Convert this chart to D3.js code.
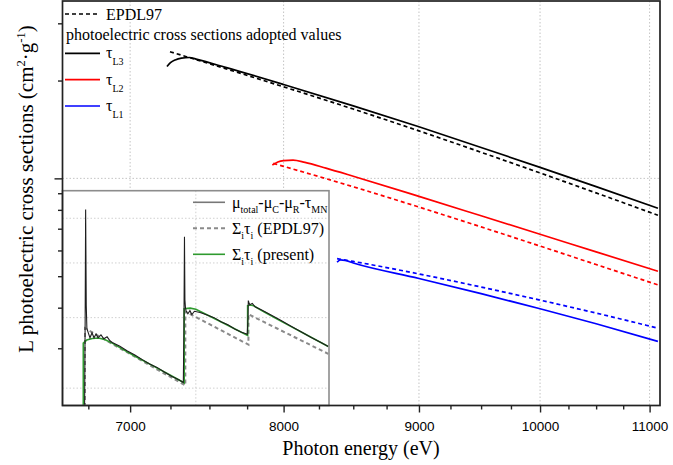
<!DOCTYPE html>
<html>
<head>
<meta charset="utf-8">
<script src="https://cdn.jsdelivr.net/npm/d3@7"></script>
<style>
  html, body { margin: 0; padding: 0; background: #fff; }
  svg { display: block; }
  text { white-space: pre; }
</style>
</head>
<body>
<svg id="chart" width="673" height="465"></svg>
<script>
// ---------------- data (energies in eV, cross sections in cm²/g) ----------------
const xMajorTicks = [7000, 8000, 9000, 10000, 11000];
const xMinorTicks = [6750, 7250, 7500, 7750, 8250, 8500, 8750, 9250, 9500, 9750, 10250, 10500, 10750];
const yMajorTicks = [100];
const yMinorTicks = [30, 40, 50, 60, 70, 80, 90, 200, 300];

// L3 subshell
const l3Energy  = [7228, 7250, 7280, 7320, 7370, 7420, 7600, 8000, 8500, 9000, 9500, 10000, 10500, 11080];
const l3Adopted = [221.0, 227.0, 231.5, 234.5, 235.5, 232.3, 220.0, 194.5, 167.2, 144.1, 124.5, 108.1, 94.3, 80.9];
const l3EpdlEnergy = [7247, 7400, 7600, 8000, 8500, 9000, 9500, 10000, 10500, 11080];
const l3Epdl       = [245.2, 233.0, 218.0, 191.3, 163.4, 140.0, 120.3, 103.9, 90.2, 77.0];

// L2 subshell
const l2Energy  = [7922, 7960, 8000, 8066, 8150, 8300, 8500, 9000, 9500, 10000, 10500, 11080];
const l2Adopted = [109.9, 112.3, 113.4, 113.8, 112.0, 107.5, 101.5, 88.0, 76.7, 67.3, 59.4, 51.8];
const l2EpdlEnergy = [7929, 8000, 8500, 9000, 9500, 10000, 10500, 11080];
const l2Epdl       = [111.2, 108.9, 94.2, 81.6, 70.9, 61.9, 54.3, 47.0];

// L1 subshell
const l1Energy  = [8381, 8405, 8440, 8500, 9000, 9500, 10000, 10500, 11080];
const l1Adopted = [55.2, 56.1, 55.9, 54.9, 49.2, 44.2, 39.7, 35.7, 31.5];
const l1EpdlEnergy = [8381, 8500, 9000, 9500, 10000, 10500, 11080];
const l1Epdl       = [56.6, 55.5, 50.8, 46.3, 42.2, 38.5, 34.6];

// inset: total L-shell photoelectric attenuation near the edges
const insetGridY = [300, 400, 500, 600];
const insetGridX = [8000];

const measEnergy = [7250, 7254, 7257, 7261, 7265, 7272, 7285, 7298, 7311, 7324, 7337, 7356, 7375, 7396, 7415,
  7430, 7480, 7530, 7580, 7630, 7680, 7730, 7780, 7830, 7880, 7912, 7916, 7920, 7923, 7927, 7932, 7944, 7958,
  7972, 7990, 8030, 8080, 8130, 8180, 8230, 8280, 8330, 8363, 8372, 8378, 8380, 8385, 8391, 8410, 8430, 8480,
  8550, 8620, 8700, 8780, 8860, 8940, 8994];
const measValue = [270, 400, 622, 420, 383, 377.5, 368.4, 376.0, 368.4, 374.4, 368.4, 372.9, 367.0, 369.9, 364.0,
  361.5, 356.0, 349.0, 343.5, 337.0, 331.0, 326.5, 320.5, 315.0, 310.5, 307.0, 380, 556.6, 430, 416, 411, 406.5, 411.5,
  405, 410.5, 408.5, 404.5, 400.0, 393.5, 388.5, 382.0, 377.0, 374.4, 373.5, 400, 428.9, 425, 421.5, 424, 418, 412.5,
  404.5, 396.0, 386.5, 377.5, 369.0, 361.0, 355.5];

const epdlSumEnergy = [7253, 7253, 7400, 7600, 7800, 7926, 7926, 8000, 8100, 8200, 8300, 8361, 8381, 8381,
  8500, 8600, 8700, 8800, 8994];
const epdlSumValue  = [270, 383.0, 363.3, 338.6, 316.3, 303.5, 410.1, 401.0, 389.1, 377.7, 366.8, 360.4, 358.3, 405.5,
  392.6, 382.3, 372.3, 362.7, 345.1];

const presentSumEnergy = [7242, 7242, 7264, 7300, 7340, 7380, 7430, 7500, 7600, 7700, 7800, 7918, 7918, 7960, 8000,
  8100, 8200, 8300, 8375, 8375, 8395, 8420, 8500, 8600, 8700, 8800, 8994];
const presentSumValue  = [270, 360.5, 365.0, 367.3, 368.0, 366.0, 360.5, 351.5, 339.7, 328.9, 318.4, 306.6, 415.0, 415.8, 414.0,
  402.2, 390.9, 380.0, 372.0, 420.0, 421.2, 419.8, 409.2, 397.2, 386.0, 375.2, 355.5];

// ---------------- layout ----------------
const SERIF = "'Liberation Serif', 'Times New Roman', Times, serif";
const SANS = "'Liberation Sans', Arial, Helvetica, sans-serif";
const plot = { left: 62.5, right: 660, top: 1, bottom: 405.5 };
const inset = { left: 62.5, right: 329, top: 190.7, bottom: 405.5 };

const svg = d3.select('#chart');

const x = d3.scaleLog().domain([6600, 11100]).range([plot.left, plot.right]);
const y = d3.scaleLog().domain([20, 351.4]).range([plot.bottom, plot.top]);
const xi = d3.scaleLog().domain([7110, 9000]).range([inset.left, inset.right]);
const yi = d3.scaleLog().domain([279.5, 671.4]).range([inset.bottom, inset.top]);

const zip = (a, b) => a.map((v, i) => [v, b[i]]);

const defs = svg.append('defs');
defs.append('clipPath').attr('id', 'clipMain').append('rect')
  .attr('x', plot.left).attr('y', plot.top)
  .attr('width', plot.right - plot.left).attr('height', plot.bottom - plot.top);
defs.append('clipPath').attr('id', 'clipInset').append('rect')
  .attr('x', inset.left).attr('y', inset.top)
  .attr('width', inset.right - inset.left).attr('height', inset.bottom - inset.top);

// ---------------- main grid ----------------
const grid = svg.append('g').attr('stroke', '#c4c4c4').attr('stroke-width', 1).attr('stroke-dasharray', '1.5,2');
grid.selectAll('line.gx').data(xMajorTicks).join('line')
  .attr('x1', d => x(d)).attr('x2', d => x(d)).attr('y1', plot.top).attr('y2', plot.bottom);
grid.selectAll('line.gy').data(yMajorTicks).join('line')
  .attr('x1', plot.left).attr('x2', plot.right).attr('y1', d => y(d)).attr('y2', d => y(d));

// ---------------- main curves ----------------
const lineMain = d3.line().x(d => x(d[0])).y(d => y(d[1])).curve(d3.curveMonotoneX);
const mainSeries = [
  { data: zip(l3EpdlEnergy, l3Epdl), color: '#000', dash: '4,3' },
  { data: zip(l3Energy, l3Adopted), color: '#000', dash: null },
  { data: zip(l2EpdlEnergy, l2Epdl), color: '#ff0000', dash: '4,3' },
  { data: zip(l2Energy, l2Adopted), color: '#ff0000', dash: null },
  { data: zip(l1EpdlEnergy, l1Epdl), color: '#0000ff', dash: '4,3' },
  { data: zip(l1Energy, l1Adopted), color: '#0000ff', dash: null },
];
const curves = svg.append('g').attr('clip-path', 'url(#clipMain)');
mainSeries.forEach(s => {
  curves.append('path').datum(s.data)
    .attr('d', lineMain).attr('fill', 'none')
    .attr('stroke', s.color).attr('stroke-width', 1.7)
    .attr('stroke-dasharray', s.dash);
});

// ---------------- inset ----------------
const gi = svg.append('g');
gi.append('rect').attr('x', inset.left).attr('y', inset.top)
  .attr('width', inset.right - inset.left).attr('height', inset.bottom - inset.top)
  .attr('fill', '#fff');
const igrid = gi.append('g').attr('stroke', '#d0d0d0').attr('stroke-width', 1).attr('stroke-dasharray', '1.5,2');
igrid.selectAll('line.h').data(insetGridY).join('line')
  .attr('x1', inset.left).attr('x2', inset.right).attr('y1', d => yi(d)).attr('y2', d => yi(d));
igrid.selectAll('line.v').data(insetGridX).join('line')
  .attr('x1', d => xi(d)).attr('x2', d => xi(d)).attr('y1', inset.top).attr('y2', inset.bottom);

const lineInset = d3.line().x(d => xi(d[0])).y(d => yi(d[1]));
const icurves = gi.append('g').attr('clip-path', 'url(#clipInset)');
icurves.append('path').datum(zip(epdlSumEnergy, epdlSumValue))
  .attr('d', lineInset).attr('fill', 'none').attr('stroke', '#8a8a8a')
  .attr('stroke-width', 2).attr('stroke-dasharray', '4,3');
icurves.append('path').datum(zip(presentSumEnergy, presentSumValue))
  .attr('d', lineInset).attr('fill', 'none').attr('stroke', '#2f9a2f').attr('stroke-width', 1.6);
icurves.append('path').datum(zip(measEnergy, measValue))
  .attr('d', lineInset).attr('fill', 'none').attr('stroke', '#1e1e1e').attr('stroke-width', 1.1);

gi.append('rect').attr('x', inset.left).attr('y', inset.top)
  .attr('width', inset.right - inset.left).attr('height', inset.bottom - inset.top)
  .attr('fill', 'none').attr('stroke', '#8c8c8c').attr('stroke-width', 1.6);

// rich text helper: parts with optional sub/superscripts
function richText(parent, px, py, parts, size, subSize, shift) {
  const t = parent.append('text').attr('x', px).attr('y', py)
    .style('font-family', SERIF).style('font-size', size + 'px').attr('fill', '#000');
  let offset = 0;
  parts.forEach(p => {
    const target = p.sub ? shift : (p.sup ? -shift : 0);
    const ts = t.append('tspan').text(p.t).attr('dy', target - offset);
    if (p.sub || p.sup) ts.style('font-size', subSize + 'px');
    offset = target;
  });
  return t;
}

// inset legend
const insetLegend = [
  { color: '#777', dash: null, width: 1.6,
    parts: [{ t: 'μ' }, { t: 'total', sub: 1 }, { t: '-μ' }, { t: 'C', sub: 1 }, { t: '-μ' }, { t: 'R', sub: 1 }, { t: '-τ' }, { t: 'MN', sub: 1 }] },
  { color: '#8a8a8a', dash: '4,3', width: 2,
    parts: [{ t: 'Σ' }, { t: 'i', sub: 1 }, { t: 'τ' }, { t: 'i', sub: 1 }, { t: ' (EPDL97)' }] },
  { color: '#2f9a2f', dash: null, width: 1.6,
    parts: [{ t: 'Σ' }, { t: 'i', sub: 1 }, { t: 'τ' }, { t: 'i', sub: 1 }, { t: ' (present)' }] },
];
insetLegend.forEach((item, i) => {
  const ly = 202.3 + i * 26;
  gi.append('line').attr('x1', 193).attr('x2', 225).attr('y1', ly).attr('y2', ly)
    .attr('stroke', item.color).attr('stroke-width', item.width).attr('stroke-dasharray', item.dash);
  richText(gi, 232, ly + 6, item.parts, 16, 10, 5);
});

// ---------------- main axes ----------------
const axisG = svg.append('g');
const xMinorAxis = d3.axisBottom(x).tickValues(xMinorTicks).tickSize(4).tickFormat('');
const xMajorAxis = d3.axisBottom(x).tickValues(xMajorTicks).tickSize(7).tickPadding(9).tickFormat(d3.format('d'));
const yMinorAxis = d3.axisLeft(y).tickValues(yMinorTicks).tickSize(4.5).tickFormat('');
const yMajorAxis = d3.axisLeft(y).tickValues(yMajorTicks).tickSize(8).tickFormat('');

function styleAxis(g) {
  g.select('.domain').remove();
  g.selectAll('.tick line').attr('stroke', '#222').attr('stroke-width', 1.4);
  g.selectAll('.tick text').style('font-family', SANS).style('font-size', '13.5px').attr('fill', '#000');
}
axisG.append('g').attr('transform', `translate(0,${plot.bottom})`).call(xMinorAxis).call(styleAxis);
axisG.append('g').attr('transform', `translate(0,${plot.bottom})`).call(xMajorAxis).call(styleAxis);
axisG.append('g').attr('transform', `translate(${plot.left},0)`).call(yMinorAxis).call(styleAxis);
axisG.append('g').attr('transform', `translate(${plot.left},0)`).call(yMajorAxis).call(styleAxis);

axisG.append('rect').attr('x', plot.left).attr('y', plot.top)
  .attr('width', plot.right - plot.left).attr('height', plot.bottom - plot.top)
  .attr('fill', 'none').attr('stroke', '#222').attr('stroke-width', 1.7);

// ---------------- main legend ----------------
const lg = svg.append('g');
lg.append('line').attr('x1', 65).attr('x2', 100).attr('y1', 14).attr('y2', 14)
  .attr('stroke', '#000').attr('stroke-width', 1.7).attr('stroke-dasharray', '4,3');
richText(lg, 106, 19.5, [{ t: 'EPDL97' }], 16, 10, 0);
richText(lg, 66, 39.5, [{ t: 'photoelectric cross sections adopted values' }], 16, 10, 0);
const subLegend = [
  { color: '#000', sub: 'L3', ly: 53.3 },
  { color: '#ff0000', sub: 'L2', ly: 79.7 },
  { color: '#0000ff', sub: 'L1', ly: 106 },
];
subLegend.forEach(item => {
  lg.append('line').attr('x1', 65).attr('x2', 100).attr('y1', item.ly).attr('y2', item.ly)
    .attr('stroke', item.color).attr('stroke-width', 1.7);
  richText(lg, 106, item.ly + 5, [{ t: 'τ' }, { t: item.sub, sub: 1 }], 16, 10, 7);
});

// ---------------- axis titles ----------------
richText(svg, 361, 455, [{ t: 'Photon energy (eV)' }], 20, 12, 0).attr('text-anchor', 'middle');
const yTitle = richText(svg, 0, 0,
  [{ t: 'L photoelectric cross sections (cm' }, { t: '2', sup: 1 }, { t: '·g' }, { t: '-1', sup: 1 }, { t: ')' }],
  21, 12.5, 8);
yTitle.attr('text-anchor', 'middle').attr('transform', 'translate(33,189) rotate(-90)');
</script>
</body>
</html>
